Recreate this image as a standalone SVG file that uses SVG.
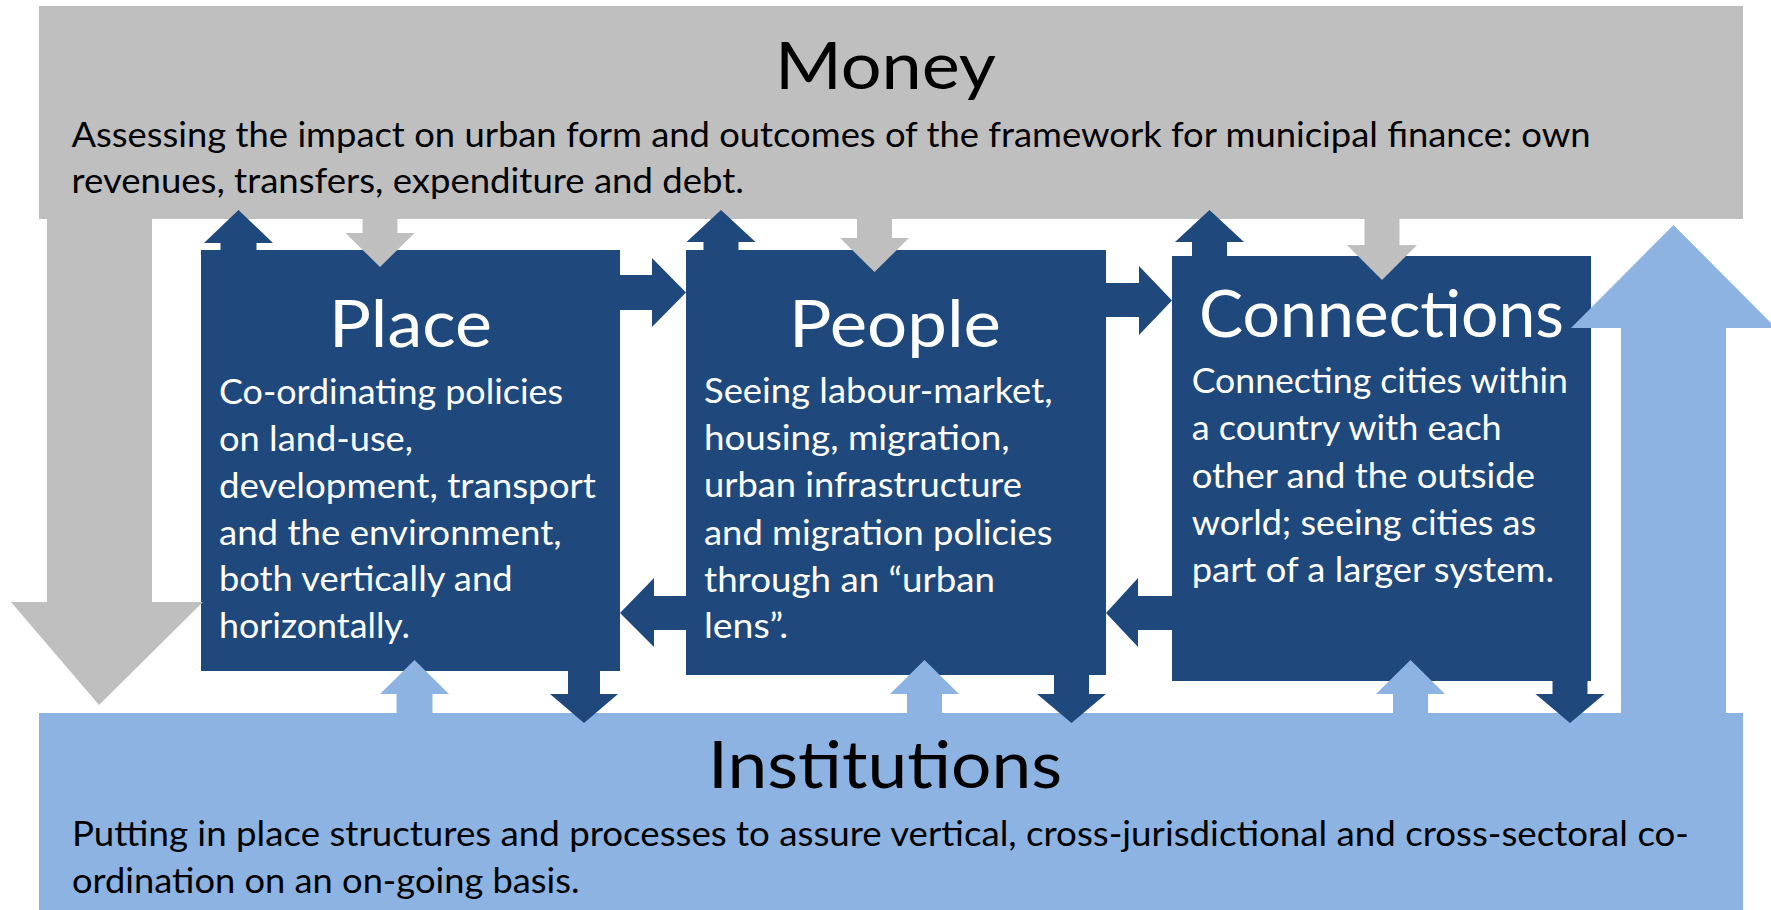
<svg xmlns="http://www.w3.org/2000/svg" width="1771" height="910" viewBox="0 0 1771 910">
<style>
.gray{fill:#BFBFBF}
.dark{fill:#1F497D}
.light{fill:#8DB3E2}
text{font-family:Lato,"Open Sans","Liberation Sans",sans-serif}
.title{font-size:65px}
.body{font-size:35px}
.blk{fill:#000}
.wht{fill:#fff}
</style>
<rect x="0" y="0" width="1771" height="910" fill="#fff"/>
<g id="money">
<rect class="gray" x="39" y="6" width="1704" height="213"/>
<text class="title blk" x="775" y="89" textLength="221" lengthAdjust="spacingAndGlyphs">Money</text>
<text class="body blk" x="71.5" y="146.7" textLength="1519" lengthAdjust="spacingAndGlyphs">Assessing the impact on urban form and outcomes of the framework for municipal finance: own</text>
<text class="body blk" x="71.5" y="193.3" textLength="672.5" lengthAdjust="spacingAndGlyphs">revenues, transfers, expenditure and debt.</text>
</g>
<g id="institutions">
<rect class="light" x="39" y="713" width="1704" height="197"/>
<text class="title blk" x="708" y="788" textLength="354" lengthAdjust="spacingAndGlyphs">Institutions</text>
<text class="body blk" x="72" y="846" textLength="1617" lengthAdjust="spacingAndGlyphs">Putting in place structures and processes to assure vertical, cross-jurisdictional and cross-sectoral co-</text>
<text class="body blk" x="72" y="892.7" textLength="507.5" lengthAdjust="spacingAndGlyphs">ordination on an on-going basis.</text>
</g>
<g id="place">
<rect class="dark" x="201" y="250" width="419" height="421"/>
<text class="title wht" x="329" y="347" textLength="163" lengthAdjust="spacingAndGlyphs">Place</text>
<text class="body wht" x="219" y="404" textLength="344" lengthAdjust="spacingAndGlyphs">Co-ordinating policies</text>
<text class="body wht" x="219" y="451" textLength="194" lengthAdjust="spacingAndGlyphs">on land-use,</text>
<text class="body wht" x="219" y="498" textLength="377" lengthAdjust="spacingAndGlyphs">development, transport</text>
<text class="body wht" x="219" y="544.5" textLength="342.6" lengthAdjust="spacingAndGlyphs">and the environment,</text>
<text class="body wht" x="219" y="591" textLength="293.5" lengthAdjust="spacingAndGlyphs">both vertically and</text>
<text class="body wht" x="219" y="638" textLength="191" lengthAdjust="spacingAndGlyphs">horizontally.</text>
</g>
<g id="people">
<rect class="dark" x="686" y="250" width="420" height="425"/>
<text class="title wht" x="789" y="347" textLength="212" lengthAdjust="spacingAndGlyphs">People</text>
<text class="body wht" x="704" y="403" textLength="348.5" lengthAdjust="spacingAndGlyphs">Seeing labour-market,</text>
<text class="body wht" x="704" y="450" textLength="305.6" lengthAdjust="spacingAndGlyphs">housing, migration,</text>
<text class="body wht" x="704" y="497" textLength="318" lengthAdjust="spacingAndGlyphs">urban infrastructure</text>
<text class="body wht" x="704" y="545" textLength="348.5" lengthAdjust="spacingAndGlyphs">and migration policies</text>
<text class="body wht" x="704" y="592" textLength="291" lengthAdjust="spacingAndGlyphs">through an “urban</text>
<text class="body wht" x="704" y="638" textLength="84" lengthAdjust="spacingAndGlyphs">lens”.</text>
</g>
<g id="connections">
<rect class="dark" x="1172" y="256" width="419" height="425"/>
<text class="title wht" x="1199" y="337" textLength="365" lengthAdjust="spacingAndGlyphs">Connections</text>
<text class="body wht" x="1191.7" y="393" textLength="376.3" lengthAdjust="spacingAndGlyphs">Connecting cities within</text>
<text class="body wht" x="1191.7" y="440" textLength="310" lengthAdjust="spacingAndGlyphs">a country with each</text>
<text class="body wht" x="1191.7" y="487.7" textLength="343.3" lengthAdjust="spacingAndGlyphs">other and the outside</text>
<text class="body wht" x="1191.7" y="535" textLength="344.3" lengthAdjust="spacingAndGlyphs">world; seeing cities as</text>
<text class="body wht" x="1191.7" y="581.7" textLength="362.3" lengthAdjust="spacingAndGlyphs">part of a larger system.</text>
</g>
<g id="connectors">
<!-- big arrows -->
<polygon class="gray" points="47,218 152,218 152,602 203,602 99,705 11,602 47,602"/>
<polygon class="light" points="1621,714 1621,328 1571,328 1673.5,225 1776,328 1726,328 1726,714"/>
<!-- top dark up arrows -->
<polygon class="dark" points="220.5,251 220.5,243 204,243 238.5,210 273,243 256.5,243 256.5,251"/>
<polygon class="dark" points="703.5,251 703.5,242 686.5,242 721,210 755.5,242 738.5,242 738.5,251"/>
<polygon class="dark" points="1192,257 1192,242 1175,242 1209.5,210 1244,242 1227,242 1227,257"/>
<!-- top gray down arrows -->
<polygon class="gray" points="362.5,218 397.5,218 397.5,233 414.5,233 380,267 345.5,233 362.5,233"/>
<polygon class="gray" points="857,218 892,218 892,238 909,238 874.5,272 840,238 857,238"/>
<polygon class="gray" points="1364.5,218 1399.5,218 1399.5,245 1417,245 1382,280 1347,245 1364.5,245"/>
<!-- horizontal arrows -->
<polygon class="dark" points="619,275 652,275 652,258 686,292.5 652,327 652,310 619,310"/>
<polygon class="dark" points="687,596 654,596 654,578 620,613 654,647 654,630 687,630"/>
<polygon class="dark" points="1105,283 1139,283 1139,266 1172,300.5 1139,335 1139,317 1105,317"/>
<polygon class="dark" points="1173,596 1138,596 1138,578 1106,613 1138,647 1138,630 1173,630"/>
<!-- bottom light up arrows -->
<polygon class="light" points="396.5,714 396.5,694 380,694 414.5,660 449,694 432.5,694 432.5,714"/>
<polygon class="light" points="907,714 907,694 890,694 924.5,660 959,694 942,694 942,714"/>
<polygon class="light" points="1393,714 1393,694 1376,694 1410.5,660 1445,694 1428,694 1428,714"/>
<!-- bottom dark down arrows -->
<polygon class="dark" points="568,670 600,670 600,694 618,694 584,723 550,694 568,694"/>
<polygon class="dark" points="1054,674 1089,674 1089,694 1106,694 1071.5,723 1037,694 1054,694"/>
<polygon class="dark" points="1552.5,680 1587.5,680 1587.5,694 1604.5,694 1570,723 1535.5,694 1552.5,694"/>
</g>
</svg>
